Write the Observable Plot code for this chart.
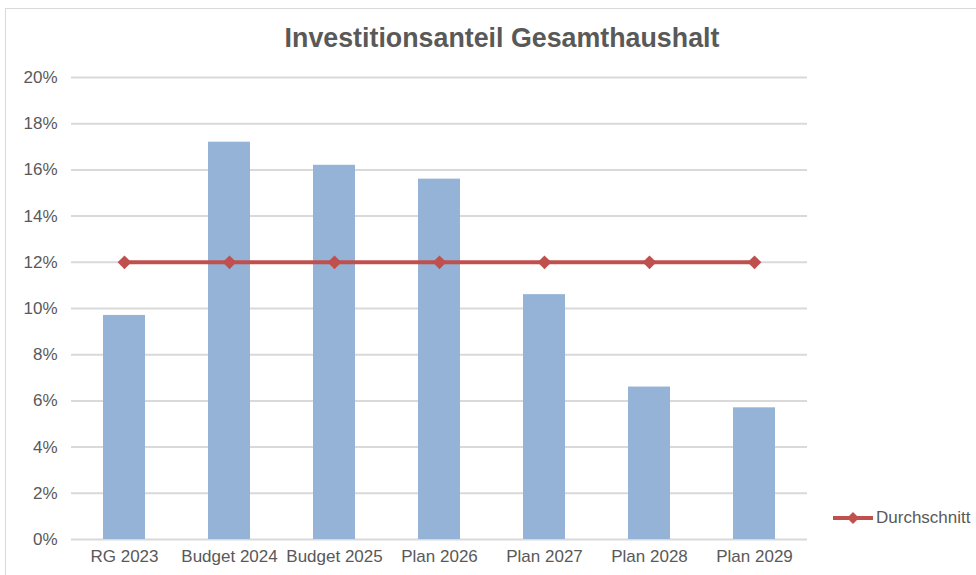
<!DOCTYPE html>
<html>
<head>
<meta charset="utf-8">
<script src="https://cdn.jsdelivr.net/npm/d3@7"></script>
<script src="https://cdn.jsdelivr.net/npm/@observablehq/plot@0.6"></script>
<style>
  html, body { margin: 0; padding: 0; background: #fff; overflow: hidden; }
  #chart { position: relative; width: 976px; height: 575px; font-family: "Liberation Sans", Arial, sans-serif; }
  #frame { position: absolute; left: 5px; top: 8px; width: 1000px; height: 600px; border: 1px solid #d9d9d9; box-sizing: border-box; }
  #title { position: absolute; left: 5px; width: 994px; top: 21px; text-align: center; font-weight: bold; font-size: 26.8px; color: #595959; line-height: 34px; }
  #plot { position: absolute; left: 0; top: 0; }
  #legend { position: absolute; left: 832px; top: 508px; display: flex; align-items: center; font-size: 17px; color: #595959; }
</style>
</head>
<body>
<div id="chart">
  <div id="frame"></div>
  <div id="plot"></div>
  <div id="title">Investitionsanteil Gesamthaushalt</div>
  <div id="legend"></div>
</div>
<script>
const categories = ["RG 2023", "Budget 2024", "Budget 2025", "Plan 2026", "Plan 2027", "Plan 2028", "Plan 2029"];
const anteil = [0.097, 0.172, 0.162, 0.156, 0.106, 0.066, 0.057];
const durchschnitt = [0.12, 0.12, 0.12, 0.12, 0.12, 0.12, 0.12];
const yTicks = [0, 0.02, 0.04, 0.06, 0.08, 0.10, 0.12, 0.14, 0.16, 0.18, 0.20];
const seriesName = "Durchschnitt";

const barColor = "#95B3D7";
const lineColor = "#C0504D";

const bars = categories.map((c, i) => ({cat: c, val: anteil[i]}));
const avg = categories.map((c, i) => ({cat: c, val: durchschnitt[i]}));

const chart = Plot.plot({
  width: 976,
  height: 575,
  marginLeft: 71,
  marginRight: 169,
  marginTop: 77,
  marginBottom: 36,
  style: { fontFamily: "'Liberation Sans', Arial, sans-serif", fontSize: "17px", color: "#595959", background: "transparent" },
  x: { domain: categories, paddingInner: 0.6, paddingOuter: 0.3, align: 0.5, label: null },
  y: { domain: [0, 0.2], label: null },
  marks: [
    Plot.ruleY(yTicks, { stroke: "#d9d9d9", strokeWidth: 2 }),
    Plot.barY(bars, { x: "cat", y: "val", fill: barColor }),
    Plot.line(avg, { x: "cat", y: "val", stroke: lineColor, strokeWidth: 4 }),
    Plot.dot(avg, { x: "cat", y: "val", symbol: "diamond2", r: 6.2, fill: lineColor, stroke: "none" }),
    Plot.axisY({ ticks: yTicks, tickFormat: d3.format(".0%"), tickSize: 0, tickPadding: 14, label: null }),
    Plot.axisX({ tickSize: 0, tickPadding: 10, label: null })
  ]
});
document.getElementById("plot").appendChild(chart);

const lg = document.getElementById("legend");
const ns = "http://www.w3.org/2000/svg";
const s = document.createElementNS(ns, "svg");
s.setAttribute("width", 42); s.setAttribute("height", 20);
s.innerHTML = `<line x1="1" y1="10" x2="41" y2="10" stroke="${lineColor}" stroke-width="4"/>` +
  `<path d="M21,4 L27,10 L21,16 L15,10 Z" fill="${lineColor}"/>`;
lg.appendChild(s);
const t = document.createElement("span");
t.textContent = seriesName;
t.style.marginLeft = "2px";
lg.appendChild(t);
</script>
</body>
</html>
